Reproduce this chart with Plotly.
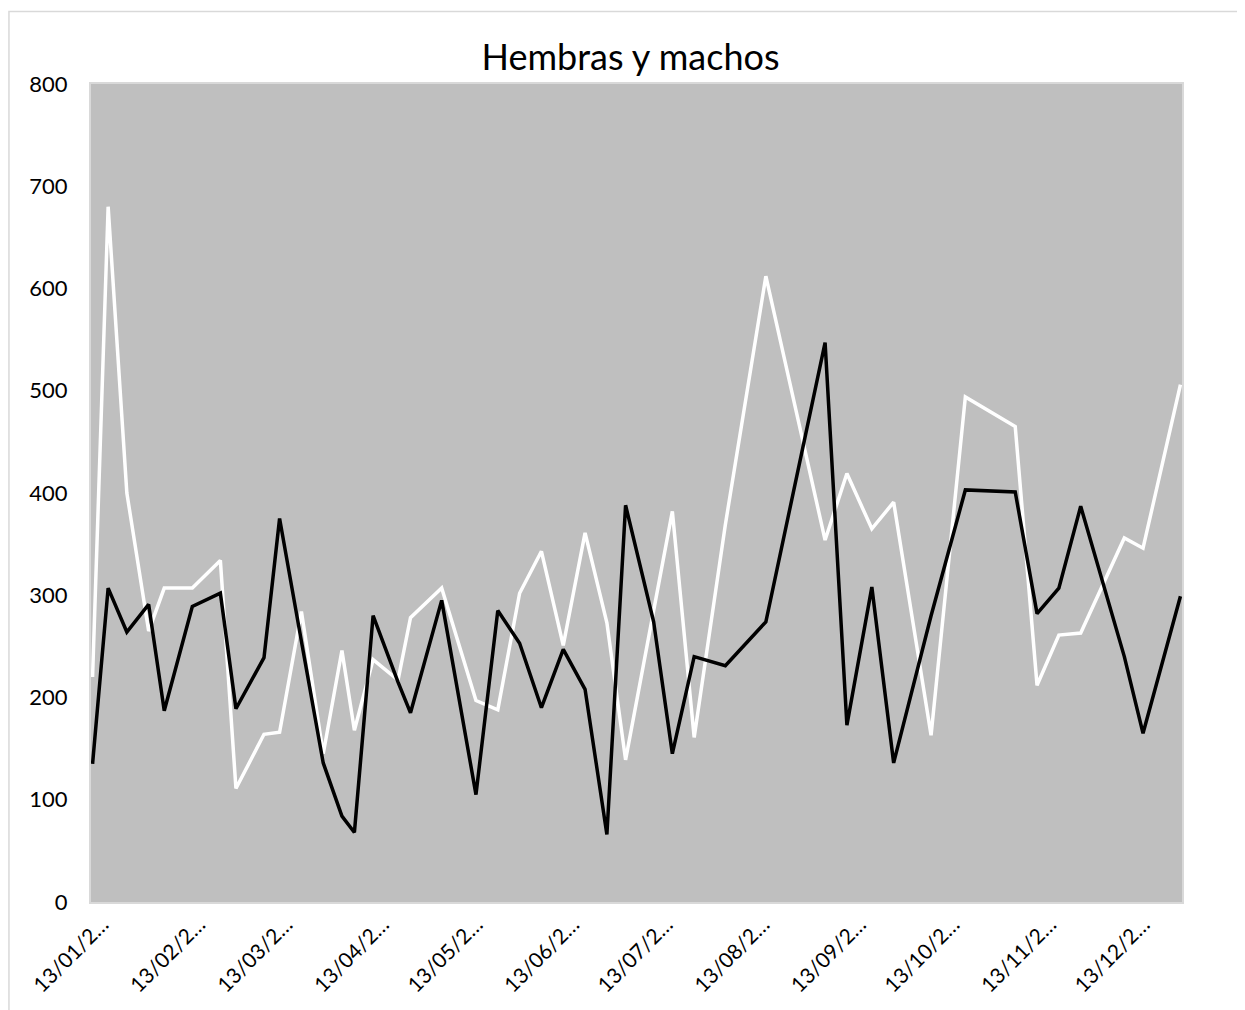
import plotly.graph_objects as go

dates = ["2021-01-13", "2021-01-18", "2021-01-24", "2021-01-31", "2021-02-05", "2021-02-14",
         "2021-02-23", "2021-02-28", "2021-03-09", "2021-03-14", "2021-03-21", "2021-03-28",
         "2021-04-03", "2021-04-07", "2021-04-13", "2021-04-21", "2021-04-25", "2021-05-05",
         "2021-05-16", "2021-05-23", "2021-05-30", "2021-06-06", "2021-06-13", "2021-06-20",
         "2021-06-27", "2021-07-03", "2021-07-12", "2021-07-18", "2021-07-25", "2021-08-04",
         "2021-08-17", "2021-09-05", "2021-09-12", "2021-09-20", "2021-09-27", "2021-10-09",
         "2021-10-20", "2021-11-05", "2021-11-12", "2021-11-19", "2021-11-26", "2021-12-10",
         "2021-12-16", "2021-12-28"]

hembras = [220, 680, 400, 265, 307, 307, 334, 111, 164, 166, 284, 145, 246, 168, 237, 217,
           278, 307, 197, 188, 302, 343, 251, 361, 273, 139, 285, 382, 161, 369, 612, 354,
           419, 365, 391, 163, 494, 465, 212, 261, 263, 356, 346, 506]

machos = [135, 307, 264, 291, 187, 289, 302, 189, 239, 375, 255, 136, 84, 68, 280, 215,
          185, 295, 105, 285, 253, 190, 247, 208, 66, 388, 274, 145, 240, 231, 274, 547,
          173, 308, 136, 280, 403, 401, 282, 307, 387, 240, 165, 299]

tick_vals = ["2021-01-13", "2021-02-13", "2021-03-13", "2021-04-13", "2021-05-13", "2021-06-13",
             "2021-07-13", "2021-08-13", "2021-09-13", "2021-10-13", "2021-11-13", "2021-12-13"]
tick_text = ["13/01/2…", "13/02/2…", "13/03/2…", "13/04/2…", "13/05/2…", "13/06/2…",
             "13/07/2…", "13/08/2…", "13/09/2…", "13/10/2…", "13/11/2…", "13/12/2…"]

FONT = "Lato, 'Open Sans', sans-serif"

fig = go.Figure()
fig.add_trace(go.Scatter(x=dates, y=hembras, name="Hembras", mode="lines",
                         line=dict(color="#ffffff", width=3.5)))
fig.add_trace(go.Scatter(x=dates, y=machos, name="Machos", mode="lines",
                         line=dict(color="#000000", width=3.5)))

fig.update_layout(
    width=1245, height=1010,
    margin=dict(l=83, r=71, t=76, b=116),
    paper_bgcolor="#ffffff",
    plot_bgcolor="#bfbfbf",
    showlegend=False,
    title=dict(text="Hembras y machos", x=0.5, xanchor="center", y=0.951, yanchor="middle",
               font=dict(family=FONT, size=36, color="#000000")),
    font=dict(family=FONT, size=22, color="#000000"),
    shapes=[dict(type="rect", xref="paper", yref="paper", x0=-0.0752, x1=1.3, y0=-0.3, y1=1.0886,
                 line=dict(color="#d9d9d9", width=1.5), fillcolor="rgba(0,0,0,0)", layer="below")],
)
fig.update_xaxes(type="date", range=["2021-01-12 12:00", "2021-12-28 12:00"],
                 tickvals=tick_vals, ticktext=tick_text, tickangle=-45, automargin=False,
                 ticklabelshift=10,
                 showgrid=False, zeroline=False, showline=True, linecolor="#d9d9d9", linewidth=2,
                 mirror=True, ticks="", tickfont=dict(family=FONT, size=21, color="#000000"))
fig.update_yaxes(range=[0, 800], dtick=100, showgrid=False, zeroline=False, automargin=False,
                 showline=True, linecolor="#d9d9d9", linewidth=2, mirror=True, ticks="",
                 ticklabelstandoff=17, tickfont=dict(family=FONT, size=22, color="#000000"))

fig.write_html("out.html")
